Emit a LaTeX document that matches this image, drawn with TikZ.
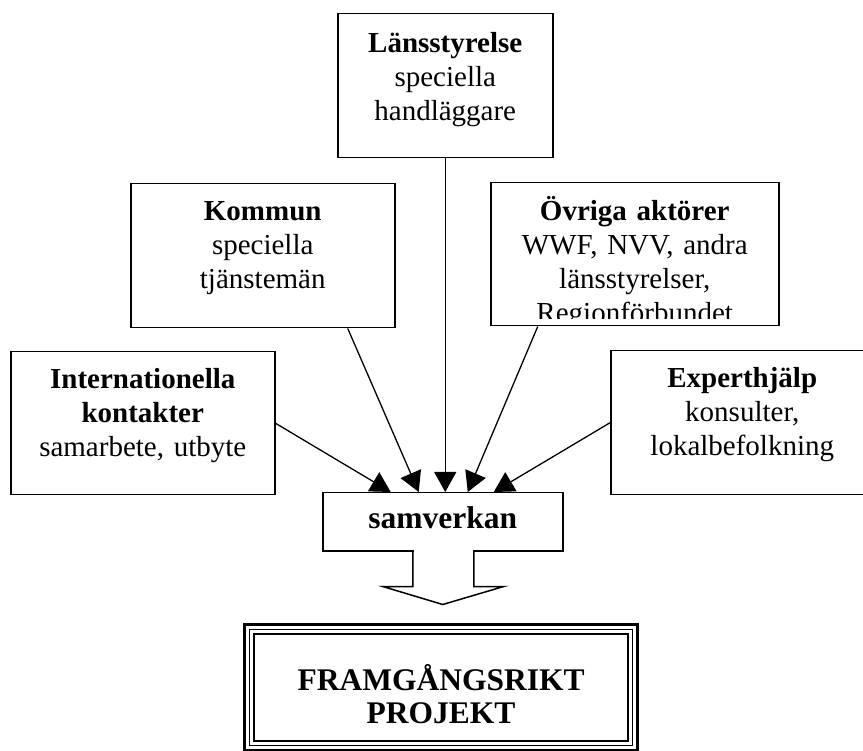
\documentclass[tikz,border=0pt]{standalone}
\usepackage{fontspec}
\setmainfont{Liberation Serif}
\usepackage{tikz}
\usetikzlibrary{calc,arrows.meta}
\tikzset{>={Triangle[length=20pt,width=22pt]}}
\tikzset{
  boite/.style={draw, line width=1.5pt, inner sep=0pt, align=center, anchor=north west,
    font=\fontsize{29}{34}\selectfont},
  texte/.style={boite, draw=none},
  fleche/.style={->, line width=1.3pt},
  gros/.style={font=\fontsize{31.5}{33}\selectfont\bfseries}
}

\begin{document}
\begin{tikzpicture}[x=1pt,y=-1pt]
    \useasboundingbox (0,0) rectangle (863,751);

    \node[boite, text width=215pt, text height=39pt, text depth=105pt] (lans) at (337,13)
        {\textbf{Länsstyrelse}\\speciella\\handläggare};
    \node[boite, text width=264pt, text height=37pt, text depth=107pt] (kommun) at (130,183)
        {\textbf{Kommun}\\speciella\\tjänstemän};
    \node[boite, text width=288pt, text height=38pt, text depth=105pt] (ovriga) at (490,182) {};
    \begin{scope}
        \clip (ovriga.north west) rectangle ([yshift=8pt]ovriga.south east);
        \node[texte, text width=288pt, text height=38pt, text depth=105pt] (ovrigatext) at (490,182)
            {\textbf{Övriga aktörer}\\WWF, NVV, andra\\länsstyrelser,\\Regionförbundet};
    \end{scope}
    \node[boite, text width=264pt, text height=37pt, text depth=106pt] (intl) at (10,351)
        {\textbf{Internationella}\\\textbf{kontakter}\\samarbete, utbyte};
    \node[boite, text width=263pt, text height=37pt, text depth=107pt] (expert) at (610,350)
        {\textbf{Experthjälp}\\konsulter,\\lokalbefolkning};

    \node[boite, gros, text width=240pt, text height=36pt, text depth=22pt] (samv) at (322,492) {samverkan};

    % pilar mot samverkan
    \draw[fleche] (intl.east) -- ([xshift=-52pt]samv.north);
    \draw[fleche] ([xshift=85pt]kommun.south) -- ([xshift=-24pt]samv.north);
    \draw[fleche] (lans.south) -- (lans.south |- samv.north);
    \draw[fleche] ([xshift=-97pt]ovriga.south) -- ([xshift=25pt]samv.north);
    \draw[fleche] (expert.west) -- ([xshift=51pt]samv.north);

    % blockpil
    \fill[white] ($(samv.south)+(-29,-2)$) rectangle ($(samv.south)+(30,2)$);
    \draw[line width=1.5pt, line join=miter] ($(samv.south)+(-30,0)$) -- ++(0,35) -- ++(-30,0)
        -- ($(samv.south)+(0,53)$) -- ($(samv.south)+(61,35)$) -- ++(-30,0) -- ++(0,-35);

    \node[boite, gros, line width=1.2pt, text width=383pt, text height=61pt, text depth=55pt] (projekt) at (249,629)
        {FRAMGÅNGSRIKT\\PROJEKT};
    \draw[line width=3pt] ([shift={(-4.6pt,4.6pt)}]projekt.north west) rectangle ([shift={(4.6pt,-4.6pt)}]projekt.south east);
    \draw[line width=2pt] ([shift={(5pt,-5pt)}]projekt.north west) rectangle ([shift={(-5pt,5pt)}]projekt.south east);
\end{tikzpicture}
\end{document}
